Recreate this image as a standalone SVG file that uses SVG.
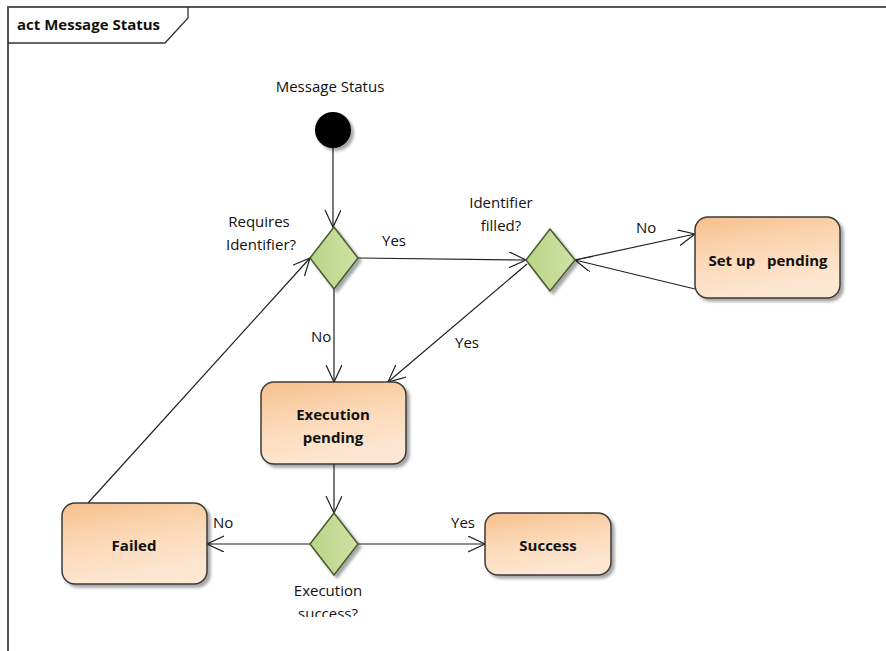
<svg xmlns="http://www.w3.org/2000/svg" width="886" height="651" viewBox="0 0 886 651">
<defs>
<linearGradient id="ng" x1="0" y1="0" x2="0.3" y2="1">
<stop offset="0" stop-color="#f7c08c"/>
<stop offset="0.5" stop-color="#fbd8b6"/>
<stop offset="1" stop-color="#fde7d3"/>
</linearGradient>
<linearGradient id="dg" x1="0" y1="0" x2="1" y2="0">
<stop offset="0" stop-color="#b9d486"/>
<stop offset="1" stop-color="#cfe2a6"/>
</linearGradient>
<filter id="sh" x="-10%" y="-10%" width="130%" height="130%">
<feGaussianBlur in="SourceAlpha" stdDeviation="1.5"/>
<feOffset dx="3" dy="3" result="b"/>
<feComponentTransfer><feFuncA type="linear" slope="0.35"/></feComponentTransfer>
<feMerge><feMergeNode/><feMergeNode in="SourceGraphic"/></feMerge>
</filter>
<marker id="arr" markerUnits="userSpaceOnUse" markerWidth="20" markerHeight="20" refX="17" refY="8" orient="auto">
<path d="M0,0 L17,8 L0,16" fill="none" stroke="#202020" stroke-width="1.2"/>
</marker>
<clipPath id="clipb"><rect x="0" y="0" width="886" height="617"/></clipPath>
<style>
.t{font-family:"Open Sans","Liberation Sans",sans-serif;font-size:15px;fill:#111;}
.b{font-family:"Open Sans","Liberation Sans",sans-serif;font-size:15px;font-weight:bold;fill:#111;text-anchor:middle;white-space:pre;}
.node{fill:url(#ng);stroke:#3a3a3a;stroke-width:1.5;filter:url(#sh);}
.dia{fill:url(#dg);stroke:#4a5a30;stroke-width:1.5;filter:url(#sh);}
.e{fill:none;stroke:#202020;stroke-width:1.2;marker-end:url(#arr);}
</style>
</defs>
<rect width="886" height="651" fill="#fff"/>
<g id="frame">
<path d="M8,651 L8,7 L886,7" fill="none" stroke="#555" stroke-width="2"/>
<path d="M8,43 L165,43 L188,18 L188,7" fill="none" stroke="#333" stroke-width="1.3"/>
<text x="17" y="30" class="t" style="font-weight:bold;font-size:15px">act Message Status</text>
</g>
<g id="connectors">
<line class="e" x1="333" y1="148" x2="333" y2="227"/>
<line class="e" x1="358" y1="258" x2="526" y2="260"/>
<line class="e" x1="334" y1="289" x2="334" y2="382"/>
<line class="e" x1="527" y1="264" x2="388" y2="382"/>
<line class="e" x1="575" y1="260" x2="695" y2="234"/>
<line class="e" x1="695" y1="289" x2="575" y2="260"/>
<line class="e" x1="334" y1="464" x2="334" y2="513"/>
<line class="e" x1="310" y1="544" x2="207" y2="544"/>
<line class="e" x1="358" y1="544" x2="485" y2="544"/>
<line class="e" x1="88" y1="503" x2="310" y2="258"/>
<text class="t" x="382" y="246">Yes</text>
<text class="t" x="311" y="342">No</text>
<text class="t" x="455" y="348">Yes</text>
<text class="t" x="636" y="233">No</text>
<text class="t" x="213" y="528">No</text>
<text class="t" x="451" y="528">Yes</text>
</g>
<g id="start">
<text class="t" x="330" y="92" text-anchor="middle">Message Status</text>
<circle cx="333" cy="130" r="18" fill="#000" filter="url(#sh)"/>
</g>
<g id="requires-identifier">
<polygon class="dia" points="310,258 334,227 358,258 334,289"/>
<text class="t" x="259" y="227" text-anchor="middle">Requires</text>
<text class="t" x="261" y="250" text-anchor="middle">Identifier?</text>
</g>
<g id="identifier-filled">
<polygon class="dia" points="526,260 550,229 575,260 550,291"/>
<text class="t" x="501" y="208" text-anchor="middle">Identifier</text>
<text class="t" x="501" y="231" text-anchor="middle">filled?</text>
</g>
<g id="setup-pending">
<rect class="node" x="695" y="217" width="145" height="81" rx="13"/>
<text class="b" x="768" y="266">Set up   pending</text>
</g>
<g id="execution-pending">
<rect class="node" x="261" y="382" width="145" height="82" rx="13"/>
<text class="b" x="333" y="420">Execution</text>
<text class="b" x="333" y="443">pending</text>
</g>
<g id="execution-success">
<polygon class="dia" points="310,544 334,513 358,544 334,575"/>
<g clip-path="url(#clipb)">
<text class="t" x="328" y="596" text-anchor="middle">Execution</text>
<text class="t" x="328" y="619" text-anchor="middle">success?</text>
</g>
</g>
<g id="failed">
<rect class="node" x="62" y="503" width="145" height="81" rx="13"/>
<text class="b" x="134" y="551">Failed</text>
</g>
<g id="success">
<rect class="node" x="485" y="513" width="126" height="62" rx="13"/>
<text class="b" x="548" y="551">Success</text>
</g>
</svg>
